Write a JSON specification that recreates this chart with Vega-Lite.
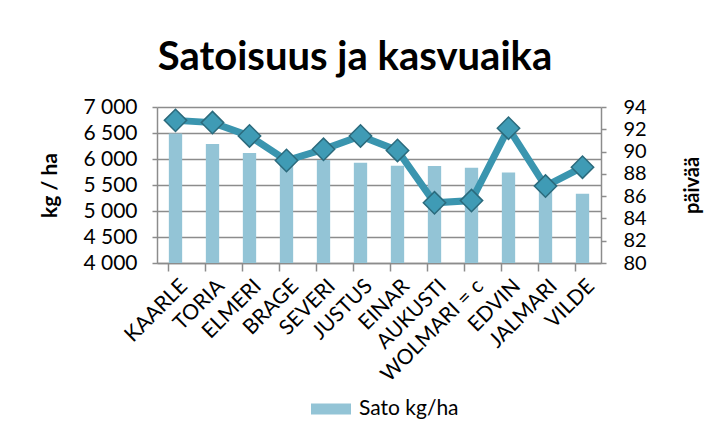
{
  "$schema": "https://vega.github.io/schema/vega-lite/v6.json",
  "width": 444,
  "height": 156,
  "autosize": "none",
  "padding": {"left": 157, "top": 107, "right": 108, "bottom": 176},
  "background": "white",
  "config": {
    "font": "Lato",
    "view": {"stroke": null},
    "axis": {"labelFont": "Lato", "titleFont": "Lato", "labelColor": "black", "titleColor": "black"}
  },
  "title": {
    "text": "Satoisuus ja kasvuaika",
    "fontSize": 40,
    "fontWeight": "bold",
    "font": "Lato",
    "color": "black",
    "baseline": "alphabetic",
    "offset": -14,
    "dx": -24
  },
  "data": {
    "values": [
      {"lajike": "KAARLE", "sato": 6490, "paivaa": 92.8},
      {"lajike": "TORIA", "sato": 6290, "paivaa": 92.6},
      {"lajike": "ELMERI", "sato": 6115, "paivaa": 91.4},
      {"lajike": "BRAGE", "sato": 5960, "paivaa": 89.2},
      {"lajike": "SEVERI", "sato": 5980, "paivaa": 90.2},
      {"lajike": "JUSTUS", "sato": 5930, "paivaa": 91.4},
      {"lajike": "EINAR", "sato": 5870, "paivaa": 90.1},
      {"lajike": "AUKUSTI", "sato": 5865, "paivaa": 85.4},
      {"lajike": "WOLMARI = c", "sato": 5830, "paivaa": 85.6},
      {"lajike": "EDVIN", "sato": 5740, "paivaa": 92.1},
      {"lajike": "JALMARI", "sato": 5580, "paivaa": 86.9},
      {"lajike": "VILDE", "sato": 5330, "paivaa": 88.6}
    ]
  },
  "encoding": {
    "x": {
      "field": "lajike",
      "type": "nominal",
      "sort": null,
      "scale": {"paddingInner": 0.64, "paddingOuter": 0.32},
      "axis": {
        "title": null,
        "labelAngle": -45,
        "labelFontSize": 21,
        "labelPadding": 4,
        "labelOffset": 1,
        "bandPosition": 0,
        "tickSize": 8,
        "tickColor": "#8C8C8C",
        "tickWidth": 1.5,
        "domainColor": "#8C8C8C",
        "domainWidth": 1.5,
        "labelOverlap": false,
        "labelBound": false
      }
    }
  },
  "layer": [
    {
      "mark": {"type": "bar", "color": "#93C4D6", "clip": true},
      "encoding": {
        "y": {
          "field": "sato",
          "type": "quantitative",
          "scale": {"domain": [4000, 7000], "nice": false, "zero": false},
          "axis": {
            "title": "kg / ha",
            "titleFontSize": 21,
            "titleFontWeight": "bold",
            "titlePadding": 22,
            "values": [4000, 4500, 5000, 5500, 6000, 6500, 7000],
            "labelExpr": "replace(format(datum.value, ','), ',', ' ')",
            "labelFontSize": 21,
            "labelPadding": 15,
            "tickSize": 5,
            "tickColor": "#8C8C8C",
            "tickWidth": 1.5,
            "domainColor": "#8C8C8C",
            "domainWidth": 1.5,
            "grid": true,
            "gridColor": "#8C8C8C",
            "gridWidth": 1.5
          }
        },
        "color": {
          "datum": "Sato kg/ha",
          "type": "nominal",
          "scale": {"range": ["#93C4D6"]},
          "legend": {
            "title": null,
            "orient": "none",
            "legendX": 154,
            "legendY": 282,
            "labelFontSize": 21,
            "labelFont": "Lato",
            "labelColor": "black",
            "symbolType": "M-1,-0.27L1,-0.27L1,0.27L-1,0.27Z",
            "symbolSize": 1600,
            "symbolStrokeWidth": 0,
            "symbolOpacity": 1,
            "labelOffset": 8
          }
        }
      }
    },
    {
      "layer": [
        {
          "mark": {"type": "line", "color": "#3A95AF", "strokeWidth": 7},
          "encoding": {
            "y": {"field": "paivaa", "type": "quantitative"}
          }
        },
        {
          "mark": {"type": "point", "shape": "diamond", "size": 500, "filled": true, "fill": "#3F9BB5", "stroke": "#2B6A7C", "strokeWidth": 1.5, "opacity": 1},
          "encoding": {
            "y": {"field": "paivaa", "type": "quantitative"}
          }
        }
      ],
      "encoding": {
        "y": {
          "field": "paivaa",
          "type": "quantitative",
          "scale": {"domain": [80, 94], "nice": false, "zero": false},
          "axis": {
            "orient": "right",
            "title": "päivää",
            "titleAngle": -90,
            "titleFontSize": 20,
            "titleFontWeight": "bold",
            "titlePadding": 56,
            "values": [80, 82, 84, 86, 88, 90, 92, 94],
            "labelFontSize": 20,
            "labelPadding": 17,
            "tickSize": 5,
            "tickColor": "#8C8C8C",
            "tickWidth": 1.5,
            "domainColor": "#8C8C8C",
            "domainWidth": 1.5,
            "grid": false
          }
        }
      }
    }
  ],
  "resolve": {"scale": {"y": "independent"}}
}
